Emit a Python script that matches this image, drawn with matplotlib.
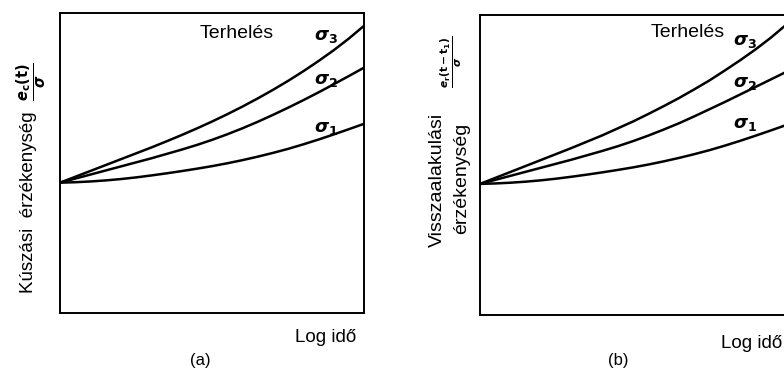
import matplotlib
matplotlib.use("Agg")
import matplotlib.pyplot as plt

plt.rcParams['font.family'] = ['Liberation Sans', 'DejaVu Sans']

# Log time (normalised axis position)
log_time = [0.0, 0.05, 0.10, 0.15, 0.20, 0.25, 0.30, 0.35, 0.40, 0.45, 0.50,
            0.55, 0.60, 0.65, 0.70, 0.75, 0.80, 0.85, 0.90, 0.95, 1.00]

# (a) creep compliance curves
creep_s3 = [0.434, 0.4535, 0.473, 0.4925, 0.512, 0.5315, 0.551, 0.5715, 0.5925, 0.6145, 0.6375,
            0.6618, 0.6873, 0.7143, 0.7428, 0.7728, 0.8048, 0.8388, 0.8748, 0.9138, 0.9563]
creep_s2 = [0.434, 0.4475, 0.461, 0.4745, 0.488, 0.5015, 0.515, 0.5295, 0.544, 0.5595, 0.5765,
            0.595, 0.615, 0.6365, 0.6595, 0.6835, 0.7085, 0.7345, 0.7615, 0.789, 0.817]
creep_s1 = [0.434, 0.4355, 0.438, 0.4415, 0.446, 0.4515, 0.458, 0.465, 0.4725, 0.4805, 0.489,
            0.4985, 0.509, 0.5205, 0.533, 0.5465, 0.5615, 0.5775, 0.5945, 0.612, 0.630]

# (b) recovery compliance curves
rec_s3 = [0.437, 0.457, 0.477, 0.497, 0.517, 0.537, 0.557, 0.578, 0.599, 0.622, 0.645,
          0.670, 0.696, 0.723, 0.752, 0.782, 0.815, 0.849, 0.885, 0.924, 0.967]
rec_s2 = [0.437, 0.4505, 0.464, 0.4775, 0.491, 0.5045, 0.518, 0.5325, 0.547, 0.5625, 0.5795,
          0.598, 0.618, 0.639, 0.662, 0.686, 0.710, 0.735, 0.760, 0.785, 0.810]
rec_s1 = [0.437, 0.4385, 0.441, 0.4445, 0.449, 0.4545, 0.461, 0.468, 0.4755, 0.4835, 0.492,
          0.5015, 0.512, 0.5235, 0.536, 0.5495, 0.5645, 0.5805, 0.5975, 0.615, 0.633]

W, H = 784, 370
fig = plt.figure(figsize=(W / 100, H / 100), dpi=100)

def px(x0, y0, w, h):
    return [x0 / W, (H - y0 - h) / H, w / W, h / H]

axA = fig.add_axes(px(60, 12.7, 304, 300.3))
axB = fig.add_axes(px(480, 15, 306, 300))

lw = 1.8
for ax, s1, s2, s3 in [(axA, creep_s1, creep_s2, creep_s3), (axB, rec_s1, rec_s2, rec_s3)]:
    for s in (s1, s2, s3):
        ax.plot(log_time, s, color='black', lw=lw, solid_joinstyle='round')
    ax.set_xlim(0, 1)
    ax.set_ylim(0, 1)
    ax.set_xticks([])
    ax.set_yticks([])
    for sp in ax.spines.values():
        sp.set_linewidth(1.4)
        sp.set_color('black')

sig_fs = 13
# (a) annotations
axA.text(0.58, 0.93, 'Terhelés', ha='center', va='center', fontsize=14)
axA.text(0.875, 0.92, r'$\boldsymbol{\sigma}_\mathbf{3}$', ha='center', va='center', fontsize=sig_fs)
axA.text(0.875, 0.775, r'$\boldsymbol{\sigma}_\mathbf{2}$', ha='center', va='center', fontsize=sig_fs)
axA.text(0.875, 0.615, r'$\boldsymbol{\sigma}_\mathbf{1}$', ha='center', va='center', fontsize=sig_fs)

# (b) annotations
axB.text(0.678, 0.94, 'Terhelés', ha='center', va='center', fontsize=14)
axB.text(0.865, 0.912, r'$\boldsymbol{\sigma}_\mathbf{3}$', ha='center', va='center', fontsize=sig_fs)
axB.text(0.865, 0.77, r'$\boldsymbol{\sigma}_\mathbf{2}$', ha='center', va='center', fontsize=sig_fs)
axB.text(0.865, 0.635, r'$\boldsymbol{\sigma}_\mathbf{1}$', ha='center', va='center', fontsize=sig_fs)

# axis labels
fig.text(29 / W, 1 - 202 / H, 'Kúszási  érzékenység', rotation=90, ha='center', va='center', fontsize=13.5)
fig.text(32 / W, 1 - 82 / H, r'$\frac{\boldsymbol{e}_\mathbf{c}\mathbf{(t)}}{\boldsymbol{\sigma}}$',
         rotation=90, ha='center', va='center', fontsize=15)

fig.text(437 / W, 1 - 180 / H, 'Visszaalakulási', rotation=90, ha='center', va='center', fontsize=14)
fig.text(462 / W, 1 - 178 / H, 'érzékenység', rotation=90, ha='center', va='center', fontsize=14)
fig.text(451 / W, 1 - 62 / H, r'$\frac{\boldsymbol{e}_\mathbf{r}\mathbf{(t-t_1)}}{\boldsymbol{\sigma}}$',
         rotation=90, ha='center', va='center', fontsize=11)

fig.text(326 / W, 1 - 338 / H, 'Log idő', ha='center', va='center', fontsize=13.5)
fig.text(782 / W, 1 - 343 / H, 'Log idő', ha='right', va='center', fontsize=13.5)

fig.text(200 / W, 1 - 360 / H, '(a)', ha='center', va='center', fontsize=12)
fig.text(618 / W, 1 - 360 / H, '(b)', ha='center', va='center', fontsize=12)

fig.savefig('out.png', dpi=100, facecolor='white')
